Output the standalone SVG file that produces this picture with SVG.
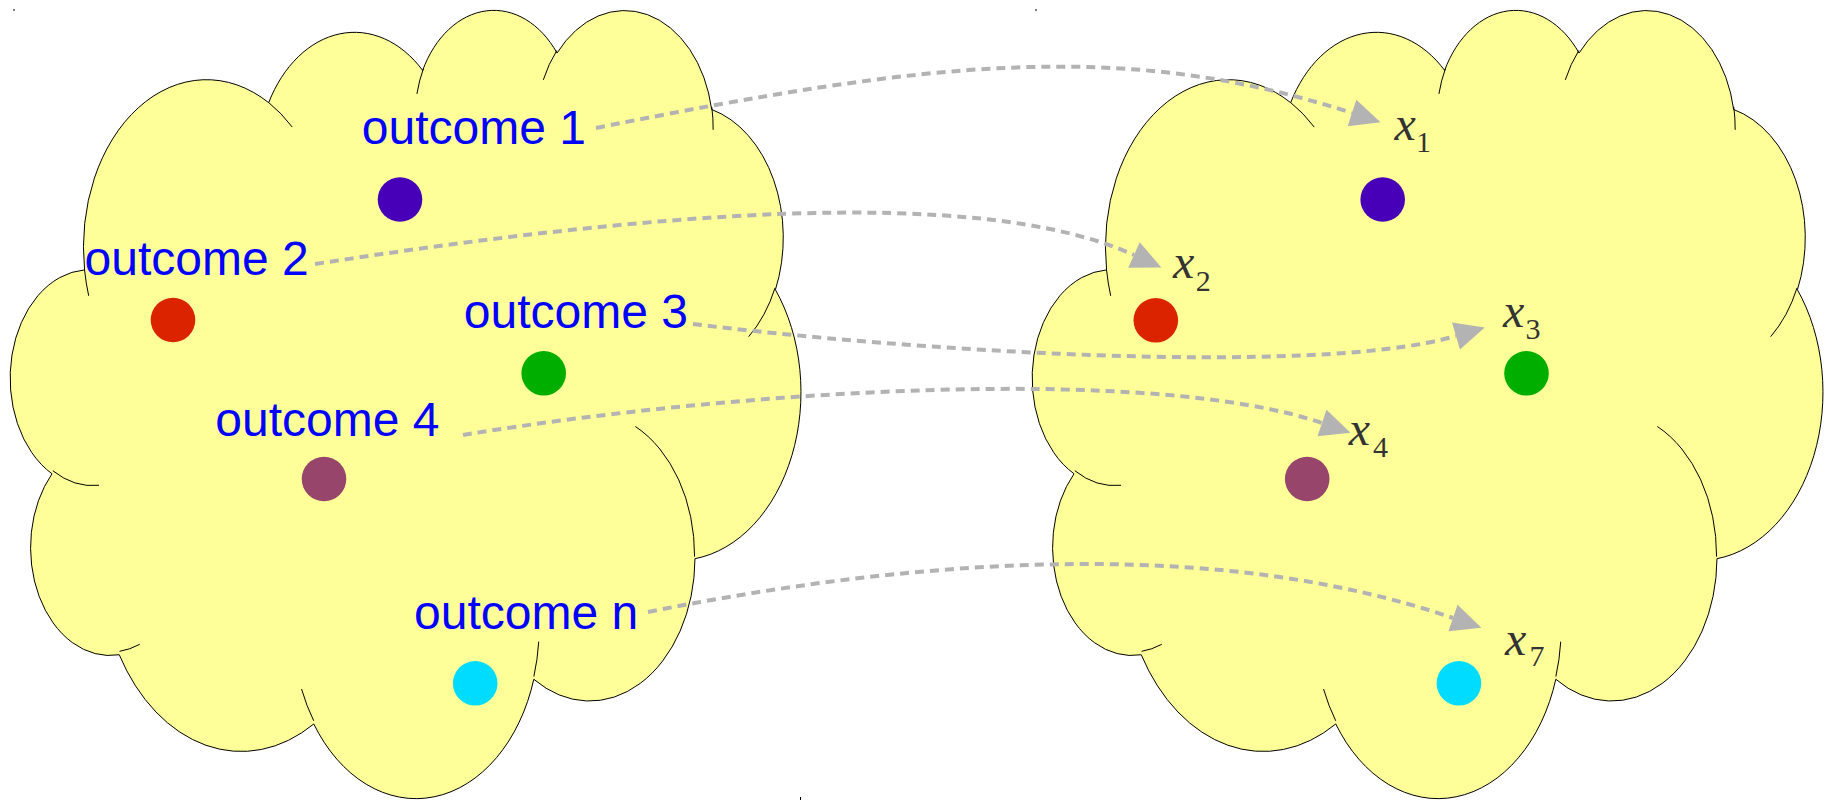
<svg xmlns="http://www.w3.org/2000/svg" xmlns:xlink="http://www.w3.org/1999/xlink" width="1827" height="800" viewBox="0 0 1827 800">
<style>
.cloud{fill:#ffff99;stroke:#000;stroke-width:1}
.inner{fill:none;stroke:#000;stroke-width:1}
.lbl{font-family:"Liberation Sans",Arial,sans-serif;font-size:48px;fill:#0000ff}
.var{font-family:"Liberation Serif","Times New Roman",serif;font-style:italic;font-size:48px;fill:#333333}
.sub{font-family:"Liberation Serif","Times New Roman",serif;font-style:normal;font-size:30px;fill:#333333}
.conn{fill:none;stroke:#b3b3b3;stroke-width:4;stroke-dasharray:9 6}
.speck{fill:#000}
</style>
<defs>
<g id="cloudShape">
<path class="cloud" vector-effect="non-scaling-stroke" d="M3900 14370 A6753 9190 0 0 1 14004.8 5201.7 A5333 7267 0 0 1 22455.7 3431.7 A4365 5945 0 0 1 29832.6 2480.5 A4857 6595 0 0 1 38317.8 5575.6 A5333 7273 0 0 1 41818 15459.3 A6775 9220 0 0 1 37403.9 30202.6 A5785 7867 0 0 1 28555.6 36812.8 A6752 9215 0 0 1 16480.2 39263.7 A7720 10543 0 0 1 5804.7 35469.5 A4360 5918 0 0 1 2113.4 25547.7 A4345 5945 0 0 1 3900 14370 Z"/>
<path class="inner" vector-effect="non-scaling-stroke" d="M4693 26177 A4345 5945 0 0 1 2159.9 25379.9 M6928 34899 A4360 5918 0 0 1 5819.7 35280.5 M16478 39090 A6752 9215 0 0 1 15810.2 37350.1 M28827 34751 A6752 9215 0 0 1 28560.2 36660.2 M34129 22954 A5785 7867 0 0 1 37380.4 30089.6 M41798 15354 A5333 7273 0 0 1 40350.2 18029.7 M38324 5426 A4857 6595 0 0 1 38400.5 6689.7 M29078 3952 A4857 6595 0 0 1 29819.6 2340.4 M22141 4720 A4365 5945 0 0 1 22500.3 3330.2 M14000 5192 A6753 9190 0 0 1 15300.2 6540.7 M4127 15789 A6753 9190 0 0 1 3900.2 14369"/>
</g>
<marker id="ah" markerUnits="userSpaceOnUse" markerWidth="30" markerHeight="28" viewBox="0 0 30 28" refX="0" refY="14" orient="auto" overflow="visible">
<path d="M0,0 L30,14 L0,28 Z" fill="#b3b3b3"/>
</marker>
</defs>

<g id="cloud-left" transform="translate(13.5,7.8) scale(0.01822,0.01824)"><use href="#cloudShape" xlink:href="#cloudShape"/></g>
<g id="cloud-right" transform="translate(1035.5,7.8) scale(0.01822,0.01824)"><use href="#cloudShape" xlink:href="#cloudShape"/></g>

<g id="specks">
<rect class="speck" x="13" y="9.5" width="2" height="1"/>
<rect class="speck" x="1035" y="9.5" width="2" height="1"/>
<rect class="speck" x="800" y="797" width="1" height="3"/>
</g>

<g id="outcome-1"><circle cx="400" cy="199.5" r="22.3" fill="#4700b8"/><text class="lbl" x="361.8" y="144">outcome 1</text></g>
<g id="outcome-2"><circle cx="173" cy="320" r="22.3" fill="#dc2300"/><text class="lbl" x="84.6" y="275">outcome 2</text></g>
<g id="outcome-3"><circle cx="543.7" cy="373.3" r="22.3" fill="#00ae00"/><text class="lbl" x="463.8" y="328">outcome 3</text></g>
<g id="outcome-4"><circle cx="324" cy="479" r="22.3" fill="#97456a"/><text class="lbl" x="215.3" y="436">outcome 4</text></g>
<g id="outcome-n"><circle cx="475.2" cy="683.3" r="22.3" fill="#00dcff"/><text class="lbl" x="414.1" y="629">outcome n</text></g>

<g id="x-1"><circle cx="1382.7" cy="199.5" r="22.3" fill="#4700b8"/><text class="var" x="1394.4" y="140">x<tspan class="sub" x="1416" y="151.7">1</tspan></text></g>
<g id="x-2"><circle cx="1155.8" cy="320.3" r="22.3" fill="#dc2300"/><text class="var" x="1173.1" y="278.3">x<tspan class="sub" x="1195.8" y="290.7">2</tspan></text></g>
<g id="x-3"><circle cx="1526.5" cy="373.3" r="22.3" fill="#00ae00"/><text class="var" x="1503.1" y="326.7">x<tspan class="sub" x="1525.4" y="339">3</tspan></text></g>
<g id="x-4"><circle cx="1307.2" cy="479" r="22.3" fill="#97456a"/><text class="var" x="1348.7" y="445">x<tspan class="sub" x="1372.9" y="456.7">4</tspan></text></g>
<g id="x-7"><circle cx="1458.9" cy="683.3" r="22.3" fill="#00dcff"/><text class="var" x="1505.1" y="655">x<tspan class="sub" x="1529.4" y="666">7</tspan></text></g>

<g id="connectors">
<path class="conn" marker-end="url(#ah)" d="M596,128 C926,62 1122,38 1352,113"/>
<path class="conn" marker-end="url(#ah)" d="M315,264 C640,214 975,183 1134,255"/>
<path class="conn" marker-end="url(#ah)" d="M693,324 C893,349 1312,378 1456,336"/>
<path class="conn" marker-end="url(#ah)" d="M463,435 C743,389 1151.5,365 1322,423"/>
<path class="conn" marker-end="url(#ah)" d="M648,612 C948,552 1232,542 1453,618"/>
</g>
</svg>
